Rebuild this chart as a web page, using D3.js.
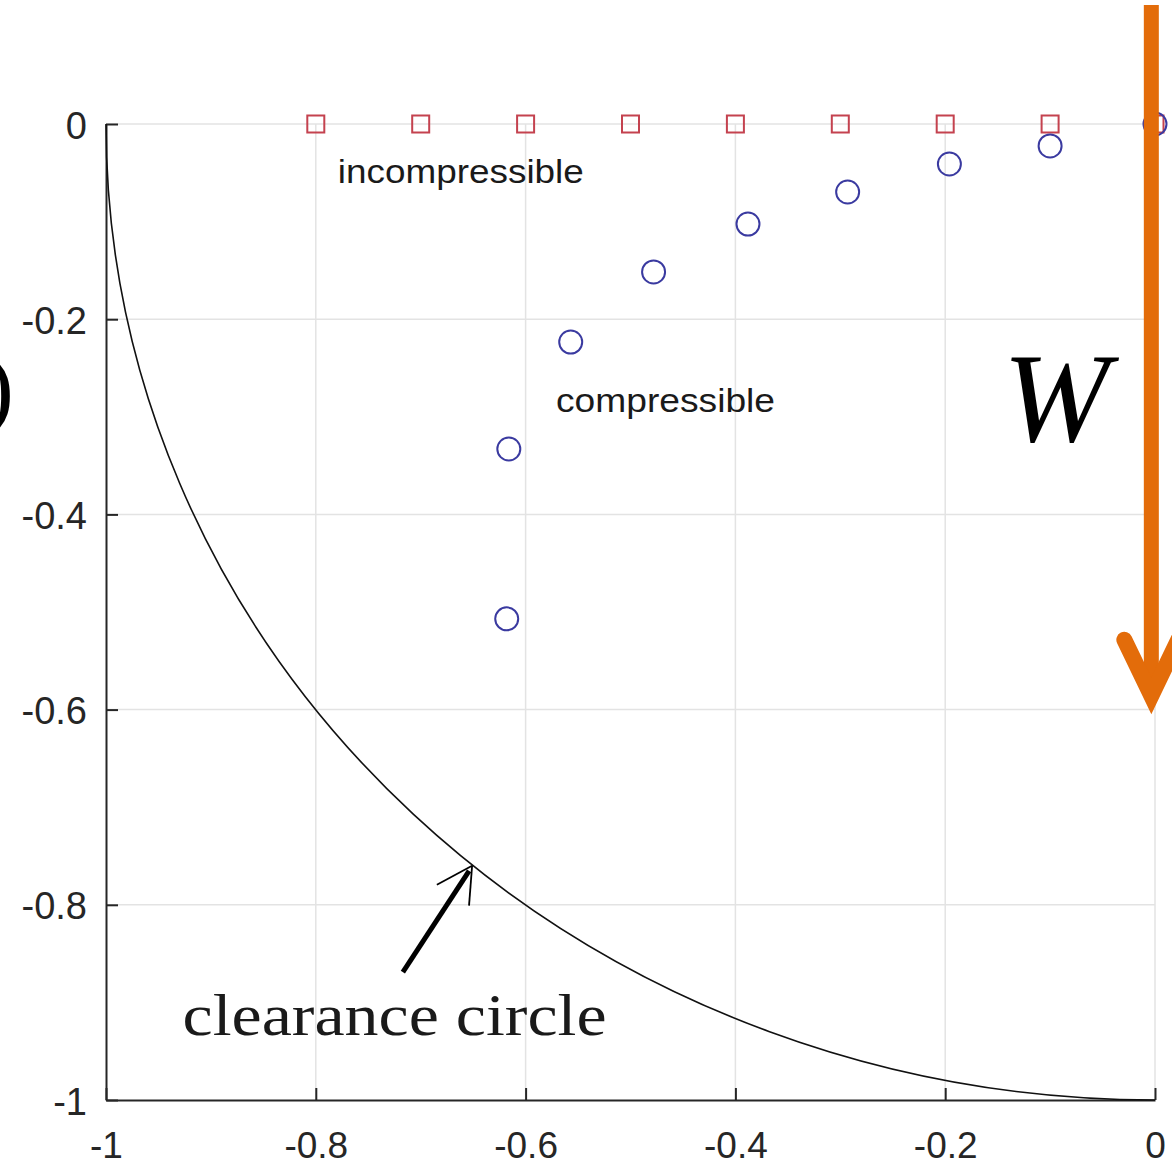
<!DOCTYPE html>
<html>
<head>
<meta charset="utf-8">
<script src="https://cdn.jsdelivr.net/npm/d3@7"></script>
<style>
  html, body { margin: 0; padding: 0; background: #fff; }
  svg { display: block; }
</style>
</head>
<body>
<svg id="chart" width="1172" height="1165"></svg>
<script>
// ---------- data ----------
const xTicks = [-1, -0.8, -0.6, -0.4, -0.2, 0];
const yTicks = [0, -0.2, -0.4, -0.6, -0.8, -1];
const xTickLabels = ["-1", "-0.8", "-0.6", "-0.4", "-0.2", "0"];
const yTickLabels = ["0", "-0.2", "-0.4", "-0.6", "-0.8", "-1"];

const incompX = [-0.8, -0.7, -0.6, -0.5, -0.4, -0.3, -0.2, -0.1, 0];
const incompY = [0, 0, 0, 0, 0, 0, 0, 0, 0];

const compX = [0, -0.1, -0.196, -0.293, -0.388, -0.478, -0.557, -0.616, -0.618];
const compY = [0, -0.0225, -0.041, -0.0697, -0.1025, -0.1516, -0.2234, -0.333, -0.507];

const labels = [
  { text: "incompressible", x: -0.779, y: -0.0605, w: 246 },
  { text: "compressible",   x: -0.571, y: -0.295,  w: 219 }
];
const annot = { text: "clearance circle", x: -0.927, y: -0.933, w: 424,
                tipX: -0.651, tipY: -0.760, tailX: -0.717, tailY: -0.869 };

// ---------- layout ----------
const svg = d3.select("#chart");
const x = d3.scaleLinear().domain([-1, 0]).range([106, 1155]);
const y = d3.scaleLinear().domain([-1, 0]).range([1100, 124]);

svg.append("rect").attr("width", 1172).attr("height", 1165).attr("fill", "#fff");

// grid
const grid = svg.append("g");
grid.selectAll("line.gx").data(xTicks.filter(d => d > -1)).enter().append("line")
  .attr("x1", d => x(d)).attr("x2", d => x(d))
  .attr("y1", y(0)).attr("y2", y(-1))
  .attr("stroke", "#e3e3e3").attr("stroke-width", 1.5);
grid.selectAll("line.gy").data(yTicks.filter(d => d > -1)).enter().append("line")
  .attr("x1", x(-1)).attr("x2", x(0))
  .attr("y1", d => y(d)).attr("y2", d => y(d))
  .attr("stroke", "#e3e3e3").attr("stroke-width", 1.5);

// axes
const axisFont = "'Liberation Sans', Arial, Helvetica, sans-serif";
const xAxis = d3.axisBottom(x).tickValues(xTicks).tickSizeInner(-12).tickSizeOuter(0)
  .tickFormat((d, i) => xTickLabels[i]).tickPadding(0);
const gx = svg.append("g").attr("transform", `translate(0,${y(-1)})`).call(xAxis);
gx.select(".domain").attr("stroke", "#262626").attr("stroke-width", 2);
gx.selectAll(".tick line").attr("stroke", "#262626").attr("stroke-width", 2);
gx.selectAll(".tick text").attr("y", 58).attr("dy", null)
  .attr("font-family", axisFont).attr("font-size", 37).attr("fill", "#262626");

const yAxis = d3.axisLeft(y).tickValues(yTicks).tickSizeInner(-12).tickSizeOuter(0)
  .tickFormat((d, i) => yTickLabels[i]).tickPadding(0);
const gy = svg.append("g").attr("transform", `translate(${x(-1)},0)`).call(yAxis);
gy.select(".domain").attr("stroke", "#262626").attr("stroke-width", 2);
gy.selectAll(".tick line").attr("stroke", "#262626").attr("stroke-width", 2);
gy.selectAll(".tick text").attr("x", -19).attr("dy", 14)
  .attr("font-family", axisFont).attr("font-size", 38).attr("fill", "#262626");

// clearance circle (unit circle, lower-left quadrant)
svg.append("path")
  .attr("d", `M${x(-1)},${y(0)} A${x(0) - x(-1)},${y(-1) - y(0)} 0 0 0 ${x(0)},${y(-1)}`)
  .attr("fill", "none").attr("stroke", "#111").attr("stroke-width", 1.6);

// incompressible squares
const sq = 17;
svg.append("g").selectAll("rect").data(incompX.map((d, i) => [d, incompY[i]])).enter().append("rect")
  .attr("x", d => x(d[0]) - sq / 2).attr("y", d => y(d[1]) - sq / 2)
  .attr("width", sq).attr("height", sq)
  .attr("fill", "none").attr("stroke", "#c4424f").attr("stroke-width", 2);

// compressible circles
svg.append("g").selectAll("circle").data(compX.map((d, i) => [d, compY[i]])).enter().append("circle")
  .attr("cx", d => x(d[0])).attr("cy", d => y(d[1])).attr("r", 11.5)
  .attr("fill", "none").attr("stroke", "#3a3aa0").attr("stroke-width", 2);

// text labels
svg.append("g").selectAll("text").data(labels).enter().append("text")
  .attr("x", d => x(d.x)).attr("y", d => y(d.y))
  .attr("textLength", d => d.w).attr("lengthAdjust", "spacingAndGlyphs")
  .attr("font-family", axisFont).attr("font-size", 34).attr("fill", "#1a1a1a")
  .text(d => d.text);

// clearance-circle annotation
svg.append("text")
  .attr("x", x(annot.x)).attr("y", y(annot.y))
  .attr("textLength", annot.w).attr("lengthAdjust", "spacingAndGlyphs")
  .attr("font-family", "'Liberation Serif', 'Times New Roman', serif").attr("font-size", 60)
  .attr("fill", "#1a1a1a").text(annot.text);

const tip = [x(annot.tipX), y(annot.tipY)], tail = [x(annot.tailX), y(annot.tailY)];
svg.append("line").attr("x1", tail[0]).attr("y1", tail[1])
  .attr("x2", tip[0] - 3).attr("y2", tip[1] + 5)
  .attr("stroke", "#000").attr("stroke-width", 5);
const ang = Math.atan2(tail[1] - tip[1], tail[0] - tip[0]);
[0.5, -0.5].forEach(off => {
  svg.append("line").attr("x1", tip[0]).attr("y1", tip[1])
    .attr("x2", tip[0] + 40 * Math.cos(ang + off)).attr("y2", tip[1] + 40 * Math.sin(ang + off))
    .attr("stroke", "#000").attr("stroke-width", 1.8);
});

// orange load arrow with W label
const orange = "#e36c0a";
const arrowX = x(-0.0035), arrowTop = y(0.122), arrowTip = y(-0.592);
svg.append("line").attr("x1", arrowX).attr("x2", arrowX)
  .attr("y1", arrowTop).attr("y2", arrowTip - 6)
  .attr("stroke", orange).attr("stroke-width", 15);
svg.append("path")
  .attr("d", `M${arrowX - 27},${arrowTip - 62} L${arrowX},${arrowTip - 6} L${arrowX + 27},${arrowTip - 62}`)
  .attr("fill", "none").attr("stroke", orange).attr("stroke-width", 16)
  .attr("stroke-linecap", "round").attr("stroke-linejoin", "miter");

svg.append("text").attr("x", 1056).attr("y", 441).attr("text-anchor", "middle")
  .attr("font-family", "'Liberation Serif', 'Times New Roman', serif")
  .attr("font-style", "italic").attr("font-size", 128).attr("fill", "#000").text("W");

// cropped parenthesis at left edge
svg.append("text").attr("x", 14).attr("y", 418).attr("text-anchor", "end")
  .attr("font-family", "'Liberation Serif', 'Times New Roman', serif")
  .attr("font-size", 92).attr("fill", "#000").text(")");
</script>
</body>
</html>
